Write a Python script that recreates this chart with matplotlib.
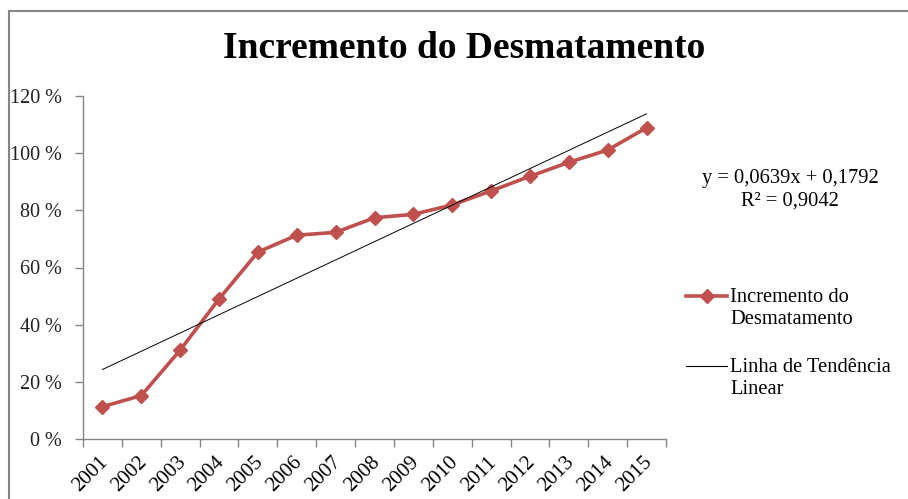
import numpy as np
import matplotlib
matplotlib.use("Agg")
import matplotlib.pyplot as plt
from matplotlib.lines import Line2D
from matplotlib.patches import Rectangle
from matplotlib.transforms import ScaledTranslation

# DATA
YEARS = [str(y) for y in range(2001, 2016)]
INCREMENTO = [0.113, 0.152, 0.311, 0.49, 0.654, 0.713, 0.723, 0.774, 0.786, 0.819,
              0.868, 0.919, 0.968, 1.011, 1.089]
TREND_SLOPE = 0.0639
TREND_INTERCEPT = 0.1792
TREND_R2 = 0.9042
Y_TICKS = [0.0, 0.2, 0.4, 0.6, 0.8, 1.0, 1.2]

# STYLE
W, H, DPI = 908, 499, 100
RED = "#C0504D"
GREY = "#868686"
FONT = "Liberation Serif"
plt.rcParams["font.family"] = [FONT, "DejaVu Serif"]


def fx(px):
    return px / W


def fy(py):
    return 1 - py / H


fig = plt.figure(figsize=(W / DPI, H / DPI), dpi=DPI, facecolor="white")
ax = fig.add_axes([fx(83), fy(439), fx(666) - fx(83), fy(96) - fy(439)])

x = np.arange(1, len(YEARS) + 1)
ax.plot(x, INCREMENTO, color=RED, lw=2.6, marker="D", ms=7.5, mec=RED, mfc=RED, zorder=3)
trend = TREND_SLOPE * x + TREND_INTERCEPT
ax.plot(x[[0, -1]], trend[[0, -1]], color="black", lw=0.7, zorder=4)

ax.set_xlim(0.5, len(YEARS) + 0.5)
ax.set_ylim(0, 1.2)
ax.set_yticks(Y_TICKS)
ax.set_yticklabels([f"{v * 100:.0f} %" for v in Y_TICKS], fontsize=14.5, color="#222222")
ax.tick_params(axis="y", length=6, width=1, color=GREY, pad=9)

# category boundaries as ticks, labels at centres
ax.set_xticks(np.arange(0.5, len(YEARS) + 1, 1.0))
ax.set_xticklabels([])
ax.set_xticks(x, minor=True)
ax.set_xticklabels(YEARS, minor=True, rotation=45, ha="right", va="top",
                   rotation_mode="anchor", fontsize=15)
ax.tick_params(axis="x", which="major", length=6, width=1, color=GREY)
ax.tick_params(axis="x", which="minor", length=0, pad=10)
shift = ScaledTranslation(-4 / DPI, 0, fig.dpi_scale_trans)
for lab in ax.get_xticklabels(minor=True):
    lab.set_transform(lab.get_transform() + shift)

for side in ["top", "right"]:
    ax.spines[side].set_visible(False)
for side in ["left", "bottom"]:
    ax.spines[side].set_color(GREY)
    ax.spines[side].set_linewidth(1)

# title
fig.text(fx(464), fy(49), "Incremento do Desmatamento", ha="center", va="center",
         fontsize=27, fontweight="bold")

# trendline equation
eq = f"y = {TREND_SLOPE:.4f}x + {TREND_INTERCEPT:.4f}".replace(".", ",")
r2 = f"R² = {TREND_R2:.4f}".replace(".", ",")
fig.text(fx(790), fy(179), eq, ha="center", va="center", fontsize=14.8)
fig.text(fx(790), fy(201), r2, ha="center", va="center", fontsize=14.8)

# legend
fig.add_artist(Line2D([fx(686), fx(727)], [fy(296), fy(296)], color=RED, lw=2.6,
                      transform=fig.transFigure))
fig.add_artist(Line2D([fx(706.5)], [fy(296)], color=RED, marker="D", ms=7.5,
                      transform=fig.transFigure))
fig.add_artist(Line2D([fx(686), fx(727)], [fy(366), fy(366)], color="black", lw=0.8,
                      transform=fig.transFigure))
legend_lines = [(297, "Incremento do"), (319, "Desmatamento"),
                (368, "Linha de Tendência"), (390, "Linear")]
for py, txt in legend_lines:
    fig.text(fx(730), fy(py), txt, ha="left", va="center", fontsize=14.8)

# chart area border (cropped at right and bottom)
fig.add_artist(Rectangle((fx(9), -0.1), 1.2, fy(11) + 0.1, transform=fig.transFigure,
                         fill=False, edgecolor=GREY, lw=1.5))

fig.savefig("out.png", dpi=DPI)
